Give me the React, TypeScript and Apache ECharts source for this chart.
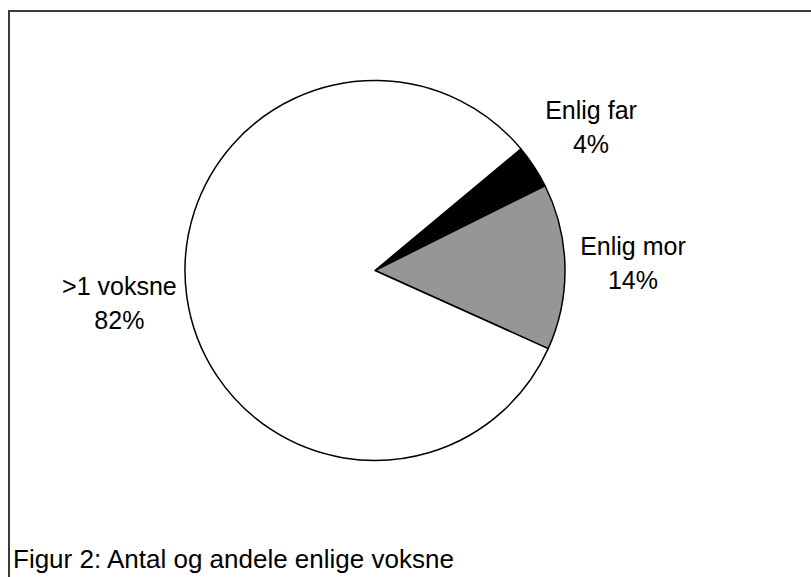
import React, { useEffect, useRef } from "react";
import * as echarts from "echarts";

const categories = ["Enlig far", "Enlig mor", ">1 voksne"];
const shares = [3.7, 14.1, 82.2];
const sliceColors = ["#000000", "#969696", "#ffffff"];
const caption = "Figur 2: Antal og andele enlige voksne";

const FONT = "'Liberation Sans', Arial, sans-serif";

export default function App() {
  const ref = useRef<HTMLDivElement>(null);
  useEffect(() => {
    if (!ref.current) return;
    const chart = echarts.init(ref.current, null, { renderer: "svg" });
    const data = categories.map((name, i) => ({
      name,
      value: shares[i],
      itemStyle: { color: sliceColors[i] },
    }));
    chart.setOption({
      animation: false,
      backgroundColor: "#ffffff",
      graphic: [
        {
          type: "rect",
          shape: { x: 9, y: 11, width: 1200, height: 1200 },
          style: { fill: "none", stroke: "#3a3a3a", lineWidth: 2 },
          silent: true,
        },
        {
          type: "text",
          left: 13,
          top: 546,
          style: {
            text: caption,
            fontFamily: FONT,
            fontSize: 26,
            fill: "#000000",
          },
          silent: true,
        },
      ],
      series: [
        {
          type: "pie",
          center: [375, 270.5],
          radius: [0, 190],
          startAngle: 39.8,
          clockwise: true,
          silent: true,
          label: { show: false },
          labelLine: { show: false },
          emphasis: { disabled: true },
          itemStyle: { borderColor: "#000000", borderWidth: 1.5 },
          data,
        },
        {
          type: "pie",
          center: [375, 268],
          radius: [250, 260],
          startAngle: 39.8,
          clockwise: true,
          silent: true,
          avoidLabelOverlap: false,
          emphasis: { disabled: true },
          itemStyle: { color: "rgba(0,0,0,0)", borderWidth: 0 },
          labelLine: { show: false },
          label: {
            show: true,
            position: "inside",
            fontFamily: FONT,
            fontSize: 25,
            lineHeight: 34,
            color: "#000000",
            align: "center",
            formatter: (p: any) => `${p.name}\n${Math.round(p.percent)}%`,
          },
          data: categories.map((name, i) => ({
            name,
            value: shares[i],
            itemStyle: { color: "rgba(0,0,0,0)" },
          })),
        },
      ],
    });
    return () => chart.dispose();
  }, []);
  return (
    <div
      ref={ref}
      style={{ position: "fixed", left: 0, top: 0, width: 811, height: 577 }}
    />
  );
}
